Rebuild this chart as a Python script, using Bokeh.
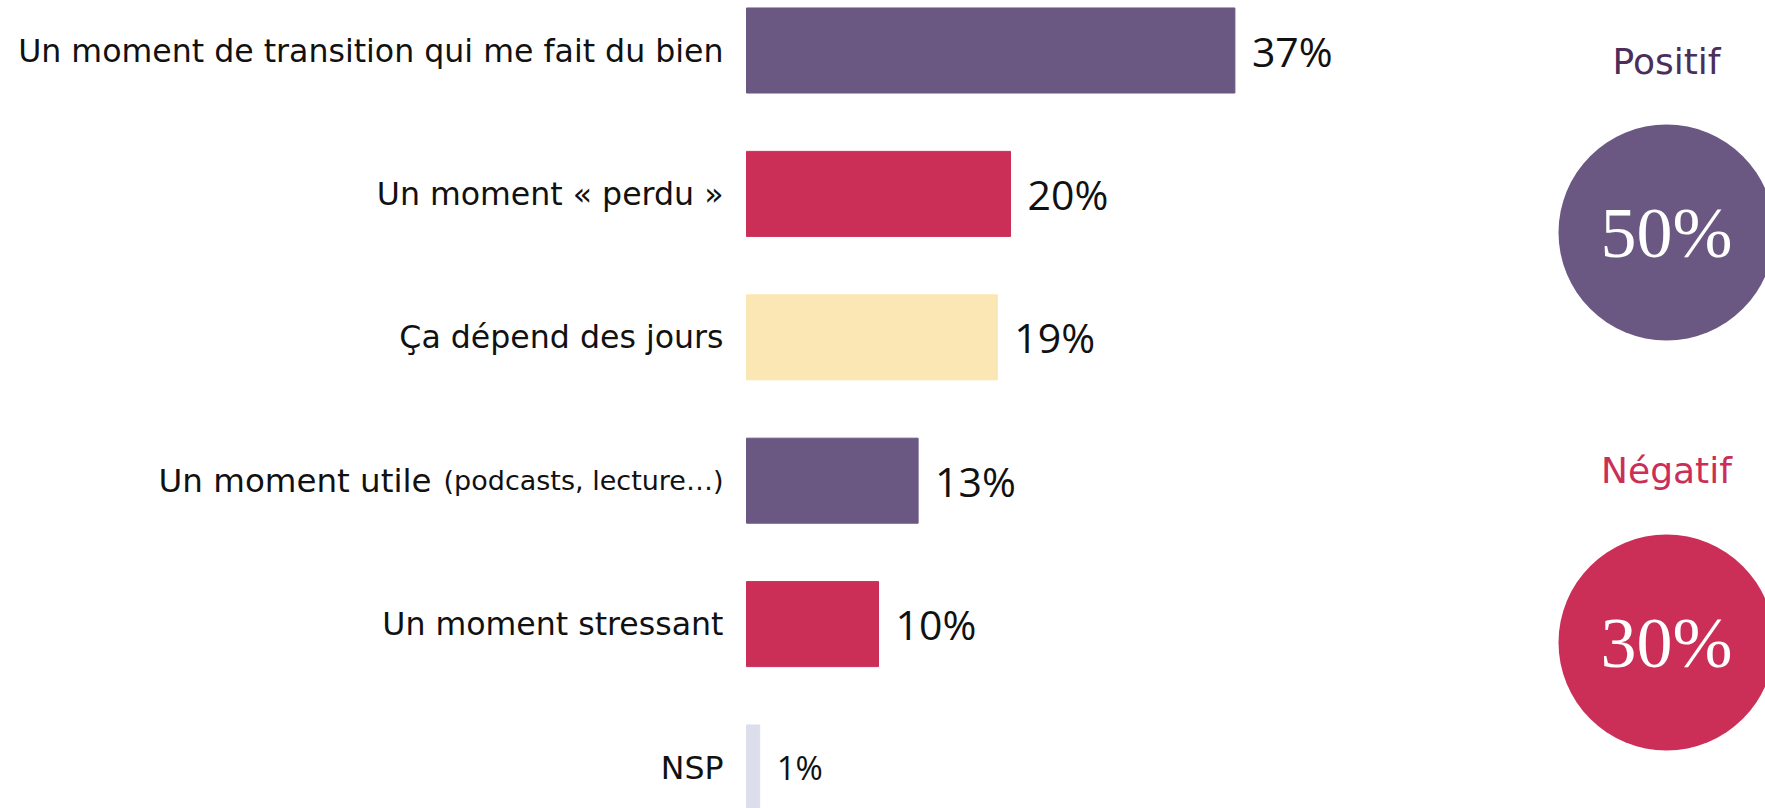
from bokeh.plotting import figure
from bokeh.models import Range1d, ColumnDataSource
from bokeh.core.properties import value
from bokeh.embed import file_html
from bokeh.resources import INLINE

# ---- data ----
categories = [
    "Un moment de transition qui me fait du bien",
    "Un moment « perdu »",
    "Ça dépend des jours",
    "Un moment utile (podcasts, lecture…)",
    "Un moment stressant",
    "NSP",
]
values = [37, 20, 19, 13, 10, 1]
groups = ["pos", "neg", "mixed", "pos", "neg", "nsp"]
summary_labels = ["Positif", "Négatif"]
summary_values = [50, 30]

# ---- styles / layout ----
COLORS = {"pos": "#6a5883", "neg": "#cb2f57", "mixed": "#fbe7b4", "nsp": "#dcdfeb"}
SUMMARY_TITLE_COLORS = ["#4b2e5a", "#cb2f57"]
SUMMARY_FILL = ["#6a5883", "#cb2f57"]
FONT = "DejaVu Sans"
NUM_FONT = "Open Sans"
SERIF = "Liberation Serif"

FIG_W, FIG_H = 1765, 808
PX_PER_PCT = 13.2
BAR_LEFT_PX = 746
ROW0_PX = 50
ROW_STEP = 143.4
BAR_H = 0.593


def xd(px):
    return (px - BAR_LEFT_PX) / PX_PER_PCT


def yd(py):
    return (py - ROW0_PX) / ROW_STEP


p = figure(
    width=FIG_W, height=FIG_H, output_backend="svg", toolbar_location=None,
    x_range=Range1d(xd(0), xd(FIG_W)), y_range=Range1d(yd(FIG_H), yd(0)),
    x_axis_location=None, y_axis_location=None, min_border=0,
)
p.grid.visible = False
p.outline_line_color = None
p.background_fill_color = "white"
p.border_fill_color = "white"

idx = list(range(len(categories)))
src = ColumnDataSource(dict(
    y=idx, v=values, color=[COLORS[g] for g in groups],
    lab=[f"{v}%" for v in values],
    cat=[c if not c.startswith("Un moment utile") else "" for c in categories],
    lsize=["41px" if v > 1 else "33px" for v in values],
))
p.hbar(y="y", left=0, right="v", height=BAR_H, color="color", source=src)

p.text(x=0, y="y", text="cat", x_offset=-23, text_align="right", text_baseline="middle",
       text_font=value(FONT), text_font_size="31.6px", text_color="#111111", source=src)

# label with smaller parenthetical
i_util = [i for i, c in enumerate(categories) if c.startswith("Un moment utile")][0]
main_part, paren_part = categories[i_util].split(" (", 1)
p.text(x=[0], y=[i_util], text=["(" + paren_part], x_offset=-23, text_align="right",
       text_baseline="middle", text_font=value(FONT), text_font_size="27px", text_color="#111111")
p.text(x=[0], y=[i_util], text=[main_part], x_offset=-315, text_align="right",
       text_baseline="middle", text_font=value(FONT), text_font_size="32.5px", text_color="#111111")

p.text(x="v", y="y", text="lab", x_offset=17, text_align="left", text_baseline="middle",
       text_font=value(NUM_FONT), text_font_size="lsize", text_color="#111111", source=src)

# summary circles
CX = 1666
title_py = [61, 470]
circle_py = [232, 642]
p.scatter(x=[xd(CX)] * 2, y=[yd(v) for v in circle_py], size=216, marker="circle",
          fill_color=SUMMARY_FILL, line_color=None)
p.text(x=[xd(CX)] * 2, y=[yd(v) for v in title_py], text=summary_labels,
       text_align="center", text_baseline="middle", text_font=value(FONT),
       text_font_size="36px", text_color=SUMMARY_TITLE_COLORS)
p.text(x=[xd(CX)] * 2, y=[yd(v) for v in circle_py], text=[f"{v}%" for v in summary_values],
       text_align="center", text_baseline="middle", text_font=value(SERIF),
       text_font_size="72px", text_color="white")

open("out.html", "w").write(file_html(p, INLINE))
